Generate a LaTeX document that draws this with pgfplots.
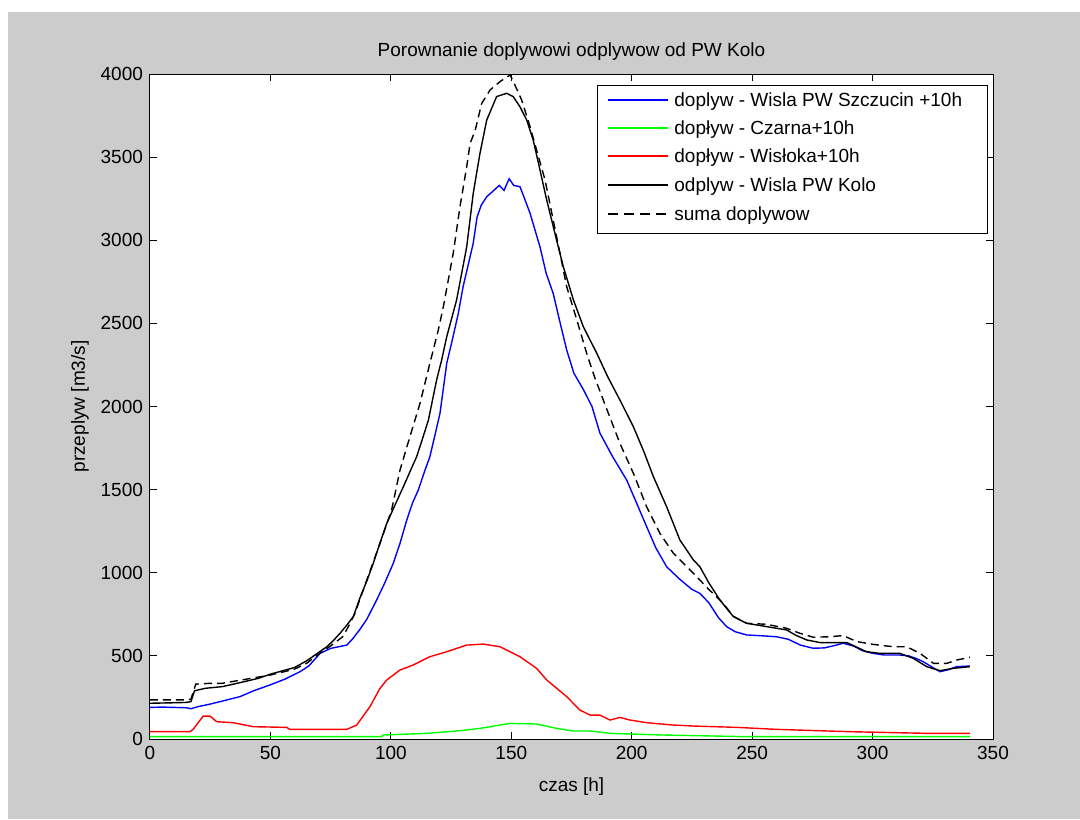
\documentclass[border=0pt]{standalone}
\usepackage{fontspec}
\setmainfont{Liberation Sans}
\usepackage{pgfplots}
\pgfplotsset{compat=1.18}

\definecolor{figgray}{RGB}{204,204,204}
\definecolor{mblue}{RGB}{0,0,255}
\definecolor{mgreen}{RGB}{0,255,0}
\definecolor{mred}{RGB}{255,0,0}

\begin{document}
\begin{tikzpicture}
% figure background (window gray, thin white margin top/left)
\fill[white] (-75pt,-40pt) rectangle (465pt,369.5pt);
\fill[figgray] (-71pt,-40pt) rectangle (465pt,363.5pt);
\begin{axis}[
    at={(0,0)}, anchor=south west,
    scale only axis,
    width=421.5pt, height=332.5pt,
    xmin=0, xmax=350, ymin=0, ymax=4000,
    xtick={0,50,...,350}, ytick={0,500,...,4000},
    axis background/.style={fill=white},
    axis line style={black, line width=0.5pt},
    tick align=inside, tick style={black, line width=0.5pt},
    major tick length=3.5pt,
    xtick pos=both, ytick pos=both,
    scaled y ticks=false,
    font=\fontsize{9.5}{11}\selectfont,
    /pgf/number format/assume math mode=true,
    /pgf/number format/1000 sep={},
    every axis title shift=0pt,
    title={Porownanie doplywowi odplywow od PW Kolo},
    title style={at={(axis description cs:0.5,1.033)}, anchor=center, font=\fontsize{9.5}{11}\selectfont},
    xlabel={czas [h]},
    xlabel style={at={(axis description cs:0.5,-0.072)}, anchor=center},
    ylabel={przeplyw [m3/s]},
    ylabel style={at={(axis description cs:-0.083,0.5)}, anchor=center, rotate=0},
    every axis plot/.append style={line width=0.7pt},
    clip=false,
]
% dopływ - Wisla PW Szczucin +10h
\addplot[mblue] coordinates {
(0,190) (5,192) (10,190) (15,188) (17,182) (20,195) (25,210) (30,228) (37.4,255)
(43,290) (49.8,325) (56,360) (62.3,405) (66,440) (70.6,515) (75,545) (81.7,565)
(84,600) (87.2,660) (90,720) (94.1,836) (97.5,940) (101,1057) (103.8,1177)
(106.6,1317) (109,1420) (111.4,1498) (114,1610) (116.2,1698) (118.5,1840)
(120.4,1959) (123.2,2260) (125.5,2400) (128,2560) (130,2721) (134.2,2982)
(135.8,3140) (137.5,3210) (139.8,3262) (142,3290) (145,3330) (147,3300) (149.1,3370) (151,3330)
(153.6,3322) (155,3270) (157.8,3162) (161.9,2961) (164.5,2800) (167.4,2680)
(170,2520) (173,2340) (176,2200) (180,2100) (183.5,2000) (186.8,1840) (192,1700)
(197.9,1558) (202,1420) (206.2,1277) (210,1150) (214.5,1036) (220,960) (225,900)
(228.3,876) (232,820) (236,730) (239.4,676) (243,645) (247.7,626) (255,620)
(260.1,615) (265,600) (270,565) (275.3,546) (280,548) (285,565) (287.7,576)
(292,560) (296,530) (300.2,515) (305,505) (311.3,505) (315,500) (318,485)
(321,465) (325,430) (328,405) (331,415) (334.9,435) (340.4,439)};
% dopływ - Czarna+10h
\addplot[mgreen] coordinates {
(0,14) (96,14) (96.9,24) (114.9,34) (128.7,50) (137,64) (145.3,84) (149.5,94)
(160.5,90) (168.8,64) (175.8,48) (182.7,48) (191,34) (213.1,24) (247.7,14) (340.4,14)};
% dopływ - Wisłoka+10h
\addplot[mred] coordinates {
(0,44) (16.6,44) (18,60) (22.1,138) (24.9,138) (27.7,104) (34.6,98) (42.9,74)
(56.8,70) (58,58) (81.7,58) (85.8,84) (91.3,194) (95.5,305) (98.3,355)
(103.8,415) (109.3,445) (116.2,495) (123.2,525) (131.5,565) (138.4,571)
(145.3,555) (153.6,495) (160.5,425) (164.7,355) (173,255) (178.5,174)
(182.7,144) (186.8,144) (191,114) (195.1,130) (199.3,114) (206.2,98) (217.3,84)
(225.6,78) (243.6,70) (260.1,58) (290.6,44) (322.5,34) (340.4,34)};
% odplyw - Wisla PW Kolo
\addplot[black] coordinates {
(0,215) (10,218) (15,220) (17,225) (18.5,290) (23,305) (30,315) (37.4,339)
(45,365) (50,390) (55,410) (60,430) (65,470) (70,520) (73.4,555) (76,590)
(78.9,636) (82,690) (84.4,736) (87.2,850) (90,950) (92.7,1057) (95.5,1180)
(98.3,1297) (101.5,1400) (105.2,1518) (108,1610) (110.7,1698) (113,1800)
(115.6,1919) (119,2160) (121.1,2280) (123.2,2420) (127.3,2641) (131.5,2961)
(134.2,3282) (137,3523) (139.8,3723) (143.9,3864) (148.1,3884) (150.8,3864)
(153.6,3803) (156.4,3723) (159.1,3603) (161.9,3423) (164.7,3242) (168.8,3001)
(171.6,2841) (175.8,2641) (179.9,2480) (185.5,2320) (190,2180) (195.1,2039)
(200.7,1878) (205,1730) (209,1578) (214.5,1397) (220,1197) (225.6,1077)
(228.3,1036) (232,940) (236.6,836) (242.2,736) (247.7,696) (256,676)
(264.3,656) (268,625) (272.6,596) (278.2,580) (289.3,580) (293,555) (297.5,525)
(303.1,515) (311.4,515) (316.9,485) (322.5,435) (328,411) (333.5,425) (340.4,435)};
% suma doplywow
\addplot[black, dash pattern=on 4pt off 2.5pt] coordinates {
(0,235) (15,235) (17,240) (19,330) (25,335) (30,335) (40,360) (50,385) (60,420)
(65,455) (70,510) (75,560) (80,615) (82.5,680) (85.1,756) (90,956) (95.5,1177)
(100.3,1377) (103.8,1618) (107.9,1818) (112.1,2019) (116.2,2260) (119.7,2460)
(121.8,2601) (125.9,2922) (128.7,3202) (131.5,3443) (132.9,3583) (135,3660)
(137.7,3823) (141.2,3904) (145.3,3954) (149.5,3994) (151.5,3934) (154.3,3844)
(157.8,3683) (160.5,3543) (164,3363) (167.4,3122) (170.2,2922) (173,2721)
(177.2,2521) (181.3,2320) (184.5,2180) (188.2,2039) (195.1,1778) (200.7,1598)
(206.2,1397) (211.7,1237) (217.3,1117) (225.6,997) (232,900) (238,816) (242,740)
(247.7,696) (256,690) (264.3,666) (269.8,636) (275.4,612) (282,615) (287.8,622)
(293.4,586) (300.3,569) (308.6,555) (314.2,555) (319.7,515) (325.3,455)
(330.8,455) (334.9,475) (340.4,491)};

% legend box, drawn row by row
\draw[black, line width=0.5pt, fill=white]
    ([shift={(-198pt,-5.5pt)}]rel axis cs:1,1) rectangle ([shift={(-3pt,-79.5pt)}]rel axis cs:1,1);
\draw[mblue, line width=0.75pt] ([shift={(-192.5pt,-13pt)}]rel axis cs:1,1) -- ++(30pt,0pt);
\draw[mgreen, line width=0.75pt] ([shift={(-192.5pt,-27pt)}]rel axis cs:1,1) -- ++(30pt,0pt);
\draw[mred, line width=0.75pt] ([shift={(-192.5pt,-41pt)}]rel axis cs:1,1) -- ++(30pt,0pt);
\draw[black, line width=0.75pt] ([shift={(-192.5pt,-55.5pt)}]rel axis cs:1,1) -- ++(30pt,0pt);
\draw[black, line width=0.75pt, dash pattern=on 5pt off 3pt] ([shift={(-192.5pt,-70pt)}]rel axis cs:1,1) -- ++(30pt,0pt);
\node[anchor=base west, inner sep=0pt] at ([shift={(-159.5pt,-16.3pt)}]rel axis cs:1,1) {doplyw - Wisla PW Szczucin +10h};
\node[anchor=base west, inner sep=0pt] at ([shift={(-159.5pt,-30.3pt)}]rel axis cs:1,1) {dopływ - Czarna+10h};
\node[anchor=base west, inner sep=0pt] at ([shift={(-159.5pt,-44.3pt)}]rel axis cs:1,1) {dopływ - Wisłoka+10h};
\node[anchor=base west, inner sep=0pt] at ([shift={(-159.5pt,-58.8pt)}]rel axis cs:1,1) {odplyw - Wisla PW Kolo};
\node[anchor=base west, inner sep=0pt] at ([shift={(-159.5pt,-73.3pt)}]rel axis cs:1,1) {suma doplywow};
\end{axis}
\end{tikzpicture}
\end{document}
